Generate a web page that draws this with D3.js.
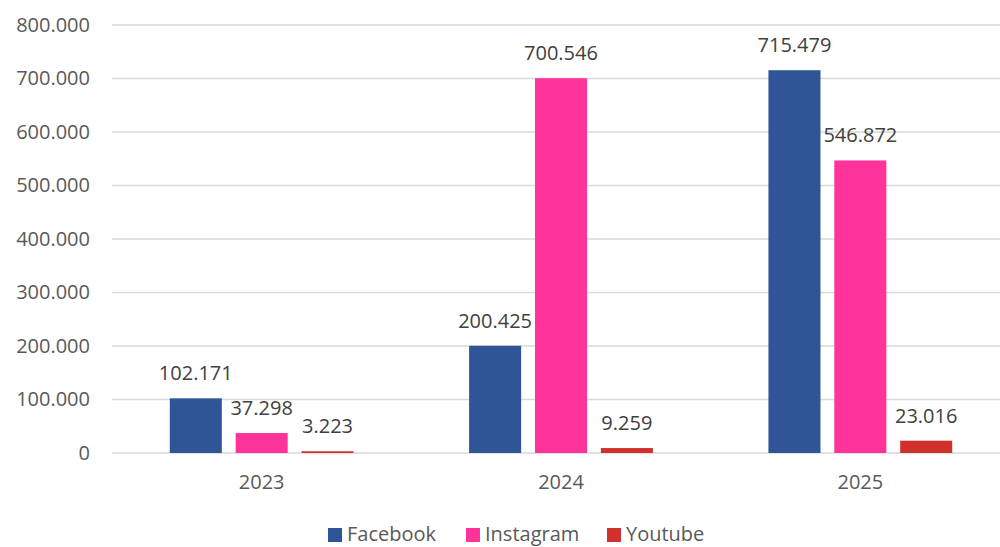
<!DOCTYPE html>
<html>
<head>
<meta charset="utf-8">
<script src="https://cdn.jsdelivr.net/npm/d3@7"></script>
<style>
  body { margin: 0; background: #fff; }
  svg text { font-family: "Open Sans", "Liberation Sans", sans-serif; }
</style>
</head>
<body>
<div id="container"></div>
<script>
// chart data
const years = ['2023', '2024', '2025'];
const seriesNames = ['Facebook', 'Instagram', 'Youtube'];
const facebook = [102171, 200425, 715479];
const instagram = [37298, 700546, 546872];
const youtube = [3223, 9259, 23016];
const yTicks = [0, 100000, 200000, 300000, 400000, 500000, 600000, 700000, 800000];
const colors = ['#2F5597', '#FF3399', '#D0312D'];

const svgWidth = 1000;
const svgHeight = 547;
const plotLeft = 112, plotRight = 1010, plotTop = 25, plotBottom = 453;

// dot as thousands separator
const loc = d3.formatLocale({ decimal: ',', thousands: '.', grouping: [3], currency: ['', ''] });
const fmt = loc.format(',d');
const fmtTick = v => v === 0 ? '0' : fmt(v);

const rows = years.map((y, i) => ({
  year: y,
  values: [facebook[i], instagram[i], youtube[i]]
}));

const x0 = d3.scaleBand().domain(years).range([plotLeft, plotRight]).padding(0);
const x1 = d3.scaleBand().domain(seriesNames)
  .range([0, x0.bandwidth()])
  .paddingInner(0.21)
  .paddingOuter(0.877);
const yScale = d3.scaleLinear().domain([0, 800000]).range([plotBottom, plotTop]);

const svg = d3.select('#container')
  .append('svg')
  .attr('width', svgWidth)
  .attr('height', svgHeight);

// gridlines
svg.append('g')
  .selectAll('line')
  .data(yTicks)
  .enter()
  .append('line')
  .attr('x1', plotLeft)
  .attr('x2', svgWidth)
  .attr('y1', d => yScale(d))
  .attr('y2', d => yScale(d))
  .attr('stroke', '#d9d9d9')
  .attr('stroke-width', 1.3);

// y axis labels
const yAxis = d3.axisLeft(yScale).tickValues(yTicks).tickFormat(fmtTick).tickSize(0).tickPadding(0);
const gy = svg.append('g')
  .attr('transform', `translate(90,0)`)
  .call(yAxis);
gy.select('.domain').remove();
gy.selectAll('text')
  .attr('fill', '#595959')
  .style('font-size', '20px')
  .style('font-family', '"Open Sans", "Liberation Sans", sans-serif');

// x axis labels
const xAxis = d3.axisBottom(x0).tickSize(0).tickPadding(0);
const gx = svg.append('g')
  .attr('transform', `translate(0,${plotBottom + 22})`)
  .call(xAxis);
gx.select('.domain').remove();
gx.selectAll('text')
  .attr('fill', '#595959')
  .style('font-size', '20px')
  .style('font-family', '"Open Sans", "Liberation Sans", sans-serif');

// bars
const groups = svg.selectAll('.year')
  .data(rows)
  .enter()
  .append('g')
  .attr('class', 'year')
  .attr('transform', d => `translate(${x0(d.year)},0)`);

groups.selectAll('rect')
  .data(d => d.values.map((v, i) => ({ name: seriesNames[i], value: v, i: i })))
  .enter()
  .append('rect')
  .attr('x', d => x1(d.name))
  .attr('y', d => yScale(d.value))
  .attr('width', x1.bandwidth())
  .attr('height', d => plotBottom - yScale(d.value))
  .attr('fill', d => colors[d.i]);

// value labels
groups.selectAll('text.lbl')
  .data(d => d.values.map((v, i) => ({ name: seriesNames[i], value: v })))
  .enter()
  .append('text')
  .attr('class', 'lbl')
  .attr('x', d => x1(d.name) + x1.bandwidth() / 2)
  .attr('y', d => yScale(d.value) - 18)
  .attr('text-anchor', 'middle')
  .attr('fill', '#404040')
  .style('font-size', '20px')
  .text(d => fmt(d.value));

// legend (kept just inside the bottom edge)
const legendX = [328, 466, 607];
const legend = svg.append('g');
seriesNames.forEach((name, i) => {
  legend.append('rect')
    .attr('x', legendX[i])
    .attr('y', 528)
    .attr('width', 14)
    .attr('height', 14)
    .attr('fill', colors[i]);
  legend.append('text')
    .attr('x', legendX[i] + 19)
    .attr('y', 541)
    .attr('fill', '#595959')
    .style('font-size', '20px')
    .text(name);
});
</script>
</body>
</html>
